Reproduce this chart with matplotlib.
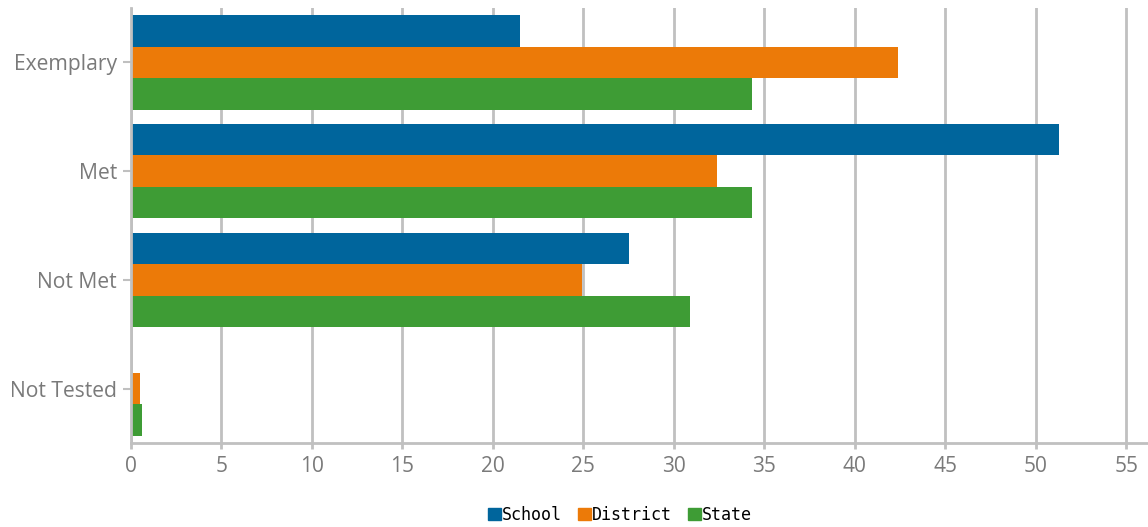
import numpy as np
import matplotlib.pyplot as plt
from matplotlib.patches import Patch

categories = ["Exemplary", "Met", "Not Met", "Not Tested"]
series_names = ["School", "District", "State"]
school = [21.5, 51.3, 27.5, 0.0]
district = [42.4, 32.4, 24.9, 0.5]
state = [34.3, 34.3, 30.9, 0.6]
x_ticks = list(range(0, 60, 5))

colors = ["#00659c", "#ec7a08", "#3e9c35"]
grid_col = "#c0c0c0"
text_col = "#7a7a7a"


def main():
    fig = plt.figure(figsize=(11.48, 5.27), dpi=100)
    ax = fig.add_axes([131 / 1148, 84 / 527, 1017 / 1148, 435 / 527])

    y = np.arange(len(categories))
    h = 0.29
    for i, (vals, col) in enumerate(zip([school, district, state], colors)):
        ax.barh(y + (i - 1) * h, vals, height=h, color=col, zorder=3)

    ax.set_xlim(0, 56.2)
    ax.set_ylim(3.5, -0.5)
    ax.set_xticks(x_ticks)
    ax.set_yticks(y)
    ax.set_yticklabels(categories)

    # vertical gridlines only
    ax.grid(axis="x", color=grid_col, linewidth=2, zorder=0)
    for s in ["top", "right"]:
        ax.spines[s].set_visible(False)
    for s in ["left", "bottom"]:
        ax.spines[s].set_color(grid_col)
        ax.spines[s].set_linewidth(2)
        ax.spines[s].set_zorder(4)

    ax.tick_params(axis="y", colors=grid_col, length=6, width=1.5, pad=4,
                   labelcolor=text_col, labelsize=15.2)
    ax.tick_params(axis="x", colors=grid_col, length=4, width=2, pad=5,
                   labelcolor=text_col, labelsize=15)
    for lbl in ax.get_xticklabels() + ax.get_yticklabels():
        lbl.set_fontfamily("Open Sans")

    handles = [Patch(color=c, label=n) for c, n in zip(colors, series_names)]
    fig.legend(handles=handles, loc="center", bbox_to_anchor=(620 / 1148, 1 - 515 / 527),
               ncol=3, frameon=False, handlelength=0.75, handleheight=0.75,
               handletextpad=0.05, columnspacing=1.0,
               prop={"family": "DejaVu Sans Mono", "size": 12})

    fig.savefig("out.png", dpi=100)


if __name__ == "__main__":
    main()
